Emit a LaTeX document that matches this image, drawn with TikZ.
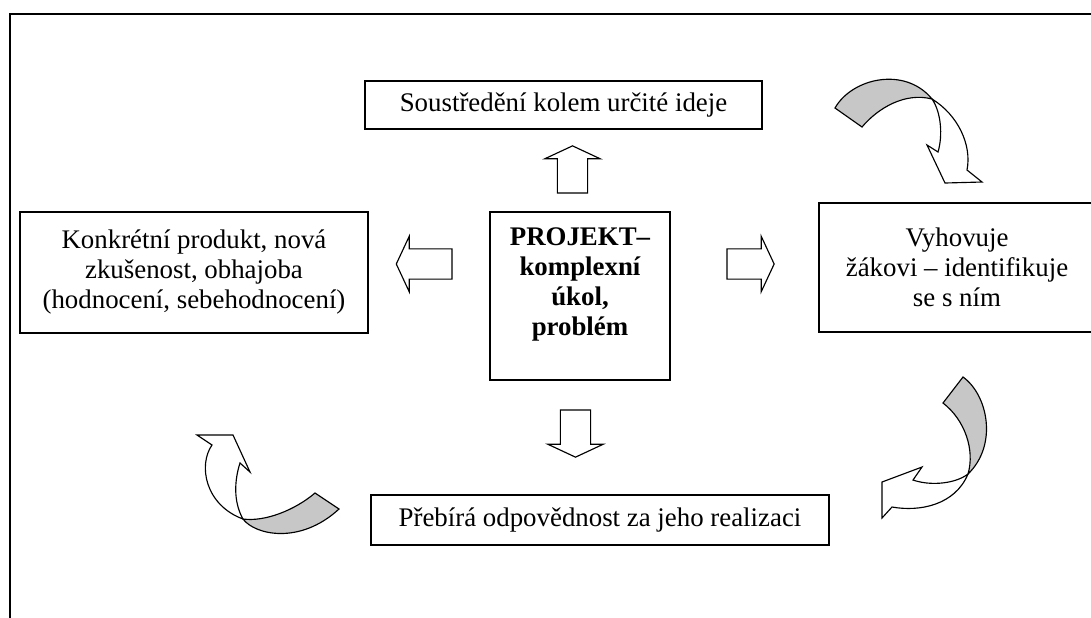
\documentclass[tikz,border=0pt]{standalone}
\usepackage{fontspec}
\setmainfont{Liberation Serif}
\usetikzlibrary{shapes.arrows}

\newcommand{\velikost}{\fontsize{9.4}{10.5}\selectfont}

\tikzset{
  okno/.style={draw, line width=0.5pt, align=center, inner sep=2pt, font=\velikost},
  sipka/.style={single arrow, draw, fill=white, line width=0.4pt, inner sep=0pt, outer sep=0pt,
    text height=10.2pt, text depth=0pt,
    single arrow head extend=4.4pt, single arrow tip angle=130,
    minimum width=19pt, minimum height=16.5pt, anchor=tail},
  zada/.style={draw, fill=black!22, line width=0.4pt},
  predek/.style={draw, fill=white, line width=0.4pt}
}

\begin{document}
\begin{tikzpicture}[x=0.35pt,y=-0.35pt]
   \useasboundingbox (0,0) rectangle (1091,617);
   \clip (0,0) rectangle (1091,617);
   \draw[line width=0.9pt] (10,640) -- (10,14) -- (1100,14);

   \node[okno, minimum width=138.95pt, minimum height=16.8pt] (idea)     at (563.5,105) {Soustředění kolem určité ideje} ; %
   \node[okno, minimum width=121.8pt, minimum height=42.35pt] (produkt)  at (194,272.5) {Konkrétní produkt, nová\\zkušenost, obhajoba\\(hodnocení, sebehodnocení)} ; %
   \node[okno, minimum width=63pt, minimum height=58.8pt]     (projekt)  at (580,296) {} ; %
   \node[align=center, font=\velikost\bfseries]               (projektText) at (580,284) {PROJEKT–\\komplexní\\úkol,\\problém} ; %
   \node[okno, minimum width=96.6pt, minimum height=45.15pt]  (vyhovuje) at (957,267.5) {Vyhovuje\\žákovi – identifikuje\\se s ním} ; %
   \node[okno, minimum width=160.3pt, minimum height=17.5pt]  (prebira)  at (600,520) {Přebírá odpovědnost za jeho realizaci} ; %

   % blokove sipky
   \node[sipka, rotate=90]  (nahoru) at (572.5,193) {} ;
   \node[sipka]             (vpravo) at (727,264) {} ;
   \node[sipka, rotate=180, minimum height=19.5pt] (vlevo) at (452,264) {} ;
   \node[sipka, rotate=-90] (dolu)   at (575.5,410) {} ;

   % zakrivene sipky
   \draw[zada]   (835,108) .. controls (852,78) and (905,66) .. (932,99)
                 .. controls (905,92) and (878,108) .. (862,127) -- cycle;
   \draw[predek] (932,99) .. controls (958,115) and (972,145) .. (967,170)
                 -- (982,182) -- (945,183) -- (927,145) -- (938,152)
                 .. controls (943,135) and (941,112) .. (932,99) -- cycle;

   \draw[zada]   (943,403) -- (963,377) .. controls (988,395) and (998,445) .. (968,474)
                 .. controls (975,450) and (965,420) .. (943,403) -- cycle;
   \draw[predek] (968,474) .. controls (955,484) and (930,486) .. (913,480)
                 -- (922,467) -- (882,482) -- (882,518) -- (892,507)
                 .. controls (920,512) and (955,505) .. (968,474) -- cycle;

   \draw[zada]   (315,493) -- (339,509) .. controls (300,545) and (255,535) .. (243,519)
                 .. controls (265,522) and (295,510) .. (315,493) -- cycle;
   \draw[predek] (243,519) .. controls (205,505) and (198,465) .. (212,445)
                 -- (197,435) -- (233,435) -- (250,472) -- (240,463)
                 .. controls (233,485) and (235,505) .. (243,519) -- cycle;
\end{tikzpicture}
\end{document}
